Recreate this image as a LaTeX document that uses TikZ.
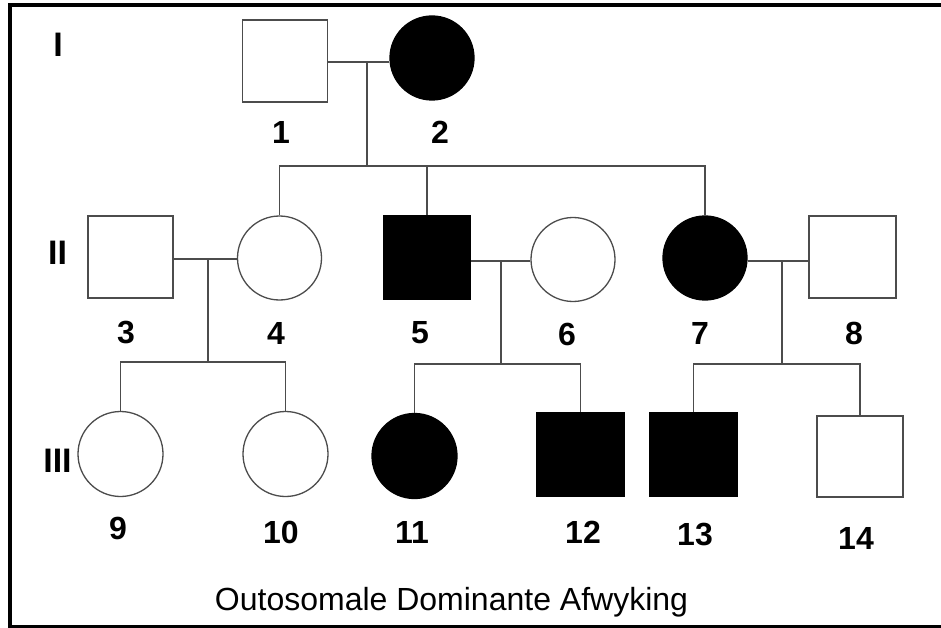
\documentclass[tikz,border=0pt]{standalone}
\usepackage{fontspec}
\setmainfont{Liberation Sans}
\begin{document}
\begin{tikzpicture}[x=1pt,y=-1pt,
  line/.style={draw=black!70,line width=1.3pt},
  male/.style={line,rectangle,minimum width=85pt,minimum height=82pt,inner sep=0pt},
  female/.style={line,circle,minimum size=84pt,inner sep=0pt},
  affected/.style={fill=black,draw=black},
  idlabel/.style={font=\fontsize{32}{32}\selectfont\bfseries,inner sep=0pt},
  genlabel/.style={font=\fontsize{34}{34}\selectfont\bfseries,inner sep=0pt},
  caption/.style={font=\fontsize{32}{32}\selectfont,inner sep=0pt,anchor=base}]
\useasboundingbox (0,0) rectangle (941,628);
\fill[white] (0,0) rectangle (941,628);
% outer frame (right side runs off the page)
\draw[line width=4pt] (10.3,5.3) rectangle (950,627.3);

% generation I
\node[male] (n1) at (285,61) {};
\node[female,affected] (n2) at (432,58) {};
% generation II
\node[male] (n3) at (130.5,257) {};
\node[female] (n4) at (279.5,258) {};
\node[male,affected,minimum width=86pt,minimum height=83pt] (n5) at (427,257.5) {};
\node[female] (n6) at (573,259.5) {};
\node[female,affected] (n7) at (705,258) {};
\node[male,minimum width=87pt] (n8) at (852.5,257) {};
% generation III
\node[female,minimum size=85pt] (n9) at (120.5,454) {};
\node[female,minimum size=85pt] (n10) at (285.5,454) {};
\node[female,affected,minimum size=85pt] (n11) at (414.5,456) {};
\node[male,affected,minimum width=87pt,minimum height=83pt] (n12) at (580.5,454.5) {};
\node[male,affected,minimum width=87pt,minimum height=83pt] (n13) at (693.5,454.5) {};
\node[male,minimum width=86pt,minimum height=81pt] (n14) at (860,456.5) {};

% mating lines and descent points
\coordinate (m12) at (367,62);
\coordinate (s12) at (367,166);
\coordinate (m34) at (208,259);
\coordinate (s34) at (208,362);
\coordinate (m56) at (501,261);
\coordinate (s56) at (501,364);
\coordinate (m78) at (782,261);
\coordinate (s78) at (782,364);

\draw[line] (n1.east |- m12) -- (n2.west |- m12);
\draw[line] (n3.east |- m34) -- (n4.west |- m34);
\draw[line] (n5.east |- m56) -- (n6.west |- m56);
\draw[line] (n7.east |- m78) -- (n8.west |- m78);

\draw[line] (m12) -- (s12);
\draw[line] (n4.north) |- (s12) -| (n7.north);
\draw[line] (n5.north) -- (n5.north |- s12);

\draw[line] (m34) -- (s34);
\draw[line] (n9.north) |- (s34) -| (n10.north);

\draw[line] (m56) -- (s56);
\draw[line] (n11.north) |- (s56) -| (n12.north);

\draw[line] (m78) -- (s78);
\draw[line] (n13.north) |- (s78) -| (n14.north);

% generation numerals
\node[genlabel] (g1) at (58,44.5) {I};
\node[genlabel] (g2) at (57.5,252.5) {II};
\node[genlabel] (g3) at (57.5,461) {III};

% individual numbers
\node[idlabel] (l1) at (281,132) {1};
\node[idlabel] (l2) at (440,132) {2};
\node[idlabel] (l3) at (126,333) {3};
\node[idlabel] (l4) at (276,333) {4};
\node[idlabel] (l5) at (420,333) {5};
\node[idlabel] (l6) at (567,334) {6};
\node[idlabel] (l7) at (700,333) {7};
\node[idlabel] (l8) at (854,333) {8};
\node[idlabel] (l9) at (118,528) {9};
\node[idlabel] (l10) at (281,532) {10};
\node[idlabel] (l11) at (412,532) {11};
\node[idlabel] (l12) at (583,532) {12};
\node[idlabel] (l13) at (695,535) {13};
\node[idlabel] (l14) at (856,538) {14};

\node[caption] (cap) at (451.5,610) {Outosomale Dominante Afwyking};
\end{tikzpicture}
\end{document}
